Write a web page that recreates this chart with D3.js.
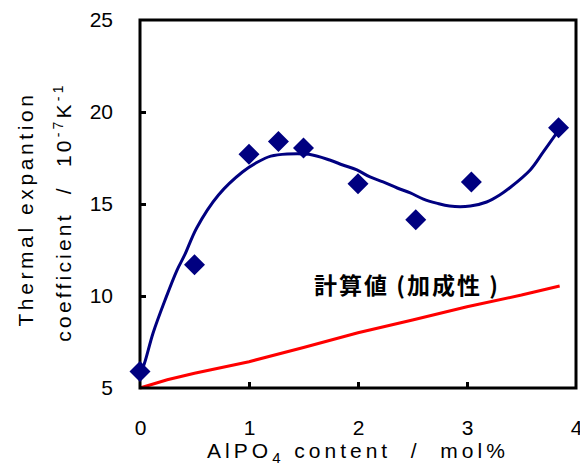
<!DOCTYPE html>
<html><head><meta charset="utf-8">
<script src="https://cdn.jsdelivr.net/npm/d3@7"></script>
<style>body{margin:0;background:#fff}svg{display:block}text{font-family:"Liberation Sans",Arial,sans-serif}</style>
</head><body><svg id="c" width="580" height="464"></svg>
<script>
const measuredX = [0, 0.5, 1.0, 1.27, 1.5, 2.0, 2.53, 3.04, 3.84];
const measuredY = [5.9, 11.7, 17.7, 18.4, 18.05, 16.1, 14.15, 16.2, 19.15];
const fitX = [0, 0.03, 0.12, 0.23, 0.34, 0.41, 0.52, 0.72, 0.94, 1.08, 1.2, 1.35, 1.55, 1.74, 1.86, 1.99, 2.11, 2.23, 2.36, 2.48, 2.6, 2.72, 2.84, 3.03, 3.18, 3.3, 3.39, 3.58, 3.7, 3.84];
const fitY = [5.87, 6.16, 7.99, 9.78, 11.41, 12.23, 13.7, 15.49, 16.74, 17.28, 17.6, 17.72, 17.7, 17.39, 17.12, 16.85, 16.47, 16.2, 15.87, 15.6, 15.27, 15.05, 14.89, 14.89, 15.11, 15.49, 15.87, 16.85, 17.83, 19.0];
const calcX = [0, 0.25, 0.5, 1, 1.5, 2, 2.5, 3, 3.5, 3.85];
const calcY = [5.0, 5.45, 5.8, 6.43, 7.2, 8.0, 8.7, 9.42, 10.05, 10.54];
const xTicks = [0, 1, 2, 3, 4];
const yTicks = [5, 10, 15, 20, 25];
const calcLabel = "計算値 (加成性 )";

const svg = d3.select("#c");
const x = d3.scaleLinear().domain([0, 4]).range([140, 576]);
const y = d3.scaleLinear().domain([5, 25]).range([388, 20]);

svg.append("path")
  .datum(calcX.map((d, i) => [d, calcY[i]]))
  .attr("fill", "none").attr("stroke", "#ff0000").attr("stroke-width", 3)
  .attr("d", d3.line().x(d => x(d[0])).y(d => y(d[1])));

svg.append("path")
  .datum(fitX.map((d, i) => [d, fitY[i]]))
  .attr("fill", "none").attr("stroke", "#000080").attr("stroke-width", 3)
  .attr("stroke-linejoin", "round")
  .attr("d", d3.line().curve(d3.curveCatmullRom).x(d => x(d[0])).y(d => y(d[1])));

svg.append("rect").attr("x", 140).attr("y", 20).attr("width", 436).attr("height", 368)
  .attr("fill", "none").attr("stroke", "#000").attr("stroke-width", 3);

const xAxis = svg.append("g").attr("transform", "translate(0,388)")
  .call(d3.axisBottom(x).tickValues(xTicks).tickSize(-6).tickPadding(32).tickFormat(d3.format("d")));
const yAxis = svg.append("g").attr("transform", "translate(140,0)")
  .call(d3.axisLeft(y).tickValues(yTicks).tickSize(-6).tickPadding(27).tickFormat(d3.format("d")));
[xAxis, yAxis].forEach(g => {
  g.select(".domain").remove();
  g.selectAll(".tick line").attr("stroke", "#000").attr("stroke-width", 3);
  g.selectAll(".tick text").attr("fill", "#000").style("font-size", "21px")
   .style("font-family", "'Liberation Sans', Arial, sans-serif");
});
xAxis.selectAll(".tick line").filter(d => d === 0 || d === 4).remove();
yAxis.selectAll(".tick line").filter(d => d === 5 || d === 25).remove();

svg.selectAll(".pt").data(measuredX.map((d, i) => [d, measuredY[i]])).enter()
  .append("path").attr("class", "pt")
  .attr("transform", d => `translate(${x(d[0])},${y(d[1])})`)
  .attr("d", "M0,-10.5L10.5,0L0,10.5L-10.5,0Z").attr("fill", "#000080");

svg.append("text").attr("x", 314).attr("y", 294)
  .style("font-size", "23px").style("font-weight", "bold").style("letter-spacing", "2px")
  .style("font-family", "'Noto Sans CJK JP', sans-serif")
  .text(calcLabel);

const xt = svg.append("text").attr("x", 358).attr("y", 458).attr("text-anchor", "middle")
  .style("font-size", "21px").style("letter-spacing", "4px").style("white-space", "pre");
xt.append("tspan").text("AlPO");
xt.append("tspan").attr("dy", 5).style("font-size", "15px").text("4");
xt.append("tspan").attr("dy", -5).text(" content  /  mol%");

svg.append("text").attr("transform", "translate(33,209) rotate(-90)")
  .attr("text-anchor", "middle").style("font-size", "21px").style("letter-spacing", "3.6px")
  .text("Thermal expantion");
const yt2 = svg.append("text").attr("transform", "translate(71,212) rotate(-90)")
  .attr("text-anchor", "middle").style("font-size", "21px").style("letter-spacing", "3.2px")
  .style("white-space", "pre");
yt2.append("tspan").text("coefficient  /  10");
yt2.append("tspan").attr("dy", -8).style("font-size", "14px").text("-7");
yt2.append("tspan").attr("dy", 8).text("K");
yt2.append("tspan").attr("dy", -8).style("font-size", "14px").text("-1");
</script></body></html>
